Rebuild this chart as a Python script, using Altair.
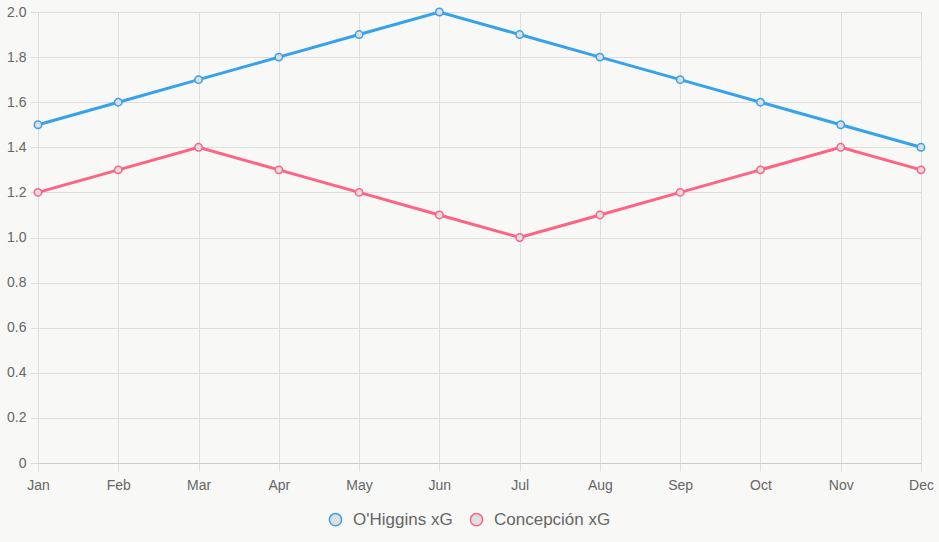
import altair as alt
import pandas as pd

months = ["Jan", "Feb", "Mar", "Apr", "May", "Jun", "Jul", "Aug", "Sep", "Oct", "Nov", "Dec"]
ohiggins = [1.5, 1.6, 1.7, 1.8, 1.9, 2.0, 1.9, 1.8, 1.7, 1.6, 1.5, 1.4]
concepcion = [1.2, 1.3, 1.4, 1.3, 1.2, 1.1, 1.0, 1.1, 1.2, 1.3, 1.4, 1.3]
series_names = ["O'Higgins xG", "Concepción xG"]
series_colors = ["#36a2eb", "#ff6384"]

rows = []
for m, a, b in zip(months, ohiggins, concepcion):
    rows.append({"month": m, "series": series_names[0], "value": a})
    rows.append({"month": m, "series": series_names[1], "value": b})
df = pd.DataFrame(rows)

font = "Liberation Sans"

x = alt.X("month:N", sort=months, title=None,
          scale=alt.Scale(type="point", padding=0),
          axis=alt.Axis(labelAngle=0, labelFont=font, labelFontSize=14, labelColor="#666666",
                        grid=True, gridColor="#dedede", domainColor="#cccccc",
                        tickColor="#dedede", tickSize=8, labelPadding=7))
y = alt.Y("value:Q", title=None,
          scale=alt.Scale(domain=[0, 2.0], nice=False),
          axis=alt.Axis(values=[0, 0.2, 0.4, 0.6, 0.8, 1.0, 1.2, 1.4, 1.6, 1.8, 2.0],
                        labelExpr="datum.value == 0 ? '0' : format(datum.value, '.1f')",
                        labelFont=font, labelFontSize=14, labelColor="#666666",
                        grid=True, gridColor="#dedede", domain=False,
                        tickColor="#dedede", tickSize=8, labelPadding=4))
color_scale = alt.Scale(domain=series_names, range=series_colors)

lines = alt.Chart(df).mark_line(strokeWidth=3).encode(
    x=x, y=y,
    stroke=alt.Stroke("series:N", scale=color_scale, sort=series_names,
                      legend=alt.Legend(title=None, orient="none", direction="horizontal",
                                        legendX=289, legendY=499,
                                        symbolType="circle", symbolSize=150,
                                        symbolFillColor="#dedede", symbolStrokeWidth=1.5,
                                        labelFont=font, labelFontSize=17, labelColor="#666666",
                                        columnPadding=14, labelOffset=9)),
    detail="series:N",
)
points = alt.Chart(df).mark_point(filled=False, size=55, strokeWidth=1.5, fill="#dedede", fillOpacity=1).encode(
    x=x, y=y,
    stroke=alt.Stroke("series:N", scale=color_scale, legend=None),
)

chart = (lines + points).properties(
    width=883, height=451,
    background="#f8f8f7",
    padding={"left": 38, "top": 12, "right": 18, "bottom": 79},
    autosize=alt.AutoSizeParams(type="none"),
).configure_view(stroke=None)

chart.save("out.html", embed_options={"renderer": "svg", "actions": False})
